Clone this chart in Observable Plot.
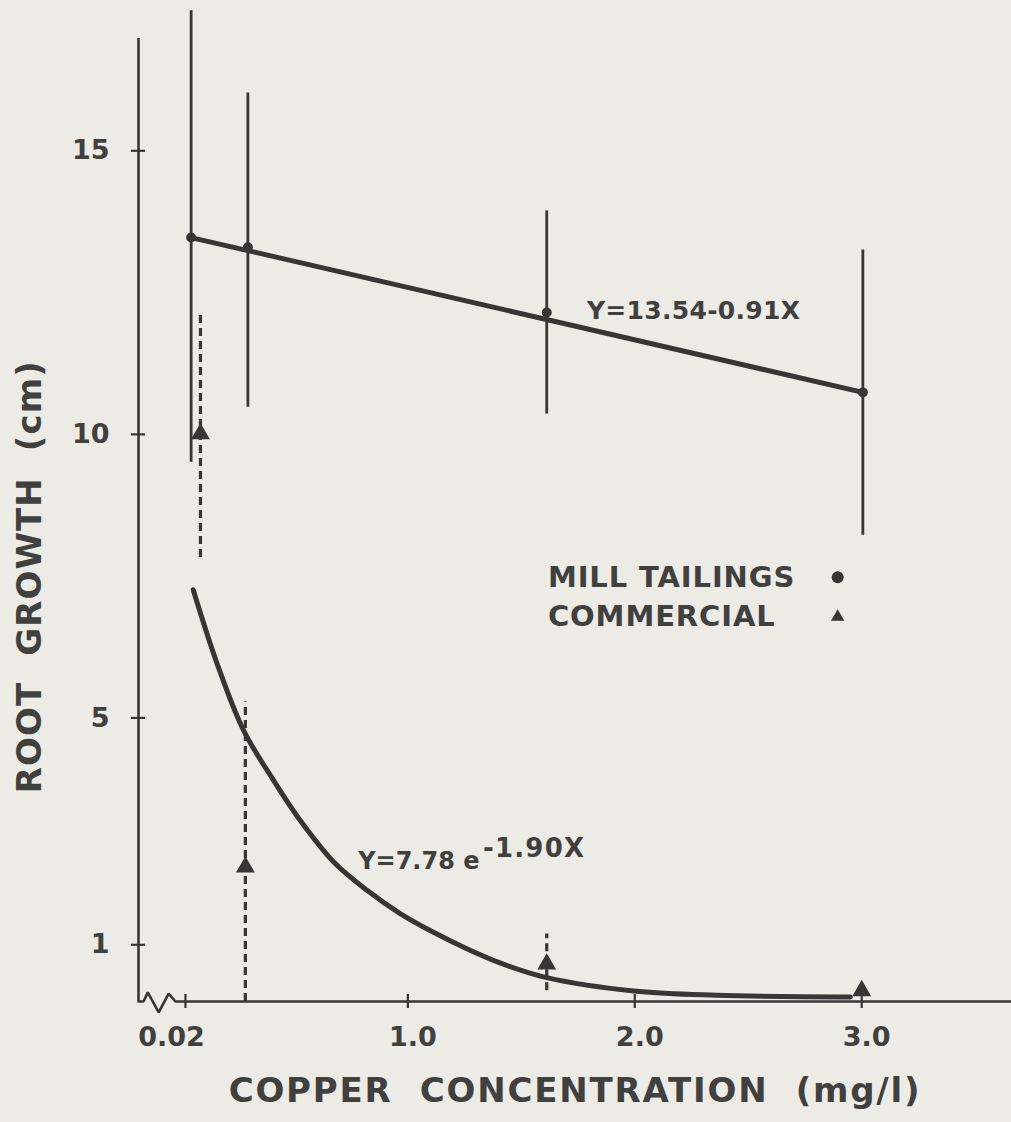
<!DOCTYPE html>
<html><head><meta charset="utf-8">
<script src="https://cdn.jsdelivr.net/npm/d3@7"></script>
<script src="https://cdn.jsdelivr.net/npm/@observablehq/plot@0.6"></script>
<style>
html,body{margin:0;padding:0;background:#ecebe5;}
#chart svg{display:block;}
#chart svg text{font-family:"DejaVu Sans",sans-serif;font-weight:bold;white-space:pre;}
</style></head><body><div id="chart"></div><script>
// ---- data ----
// Mill tailings: concentration (plotted position), mean root growth, error bar ends
const millX  = [0.045, 0.295, 1.612, 3.005];
const millY  = [13.47, 13.30, 12.15, 10.74];
const millLo = [9.51, 10.48, 10.36, 8.22];
const millHi = [17.47, 16.02, 13.94, 13.25];
// linear fit Y = 13.54 - 0.91X (end points as drawn)
const fitX = [0.045, 3.005];
const fitY = [13.47, 10.74];
// Commercial
const commX  = [0.086, 0.284, 1.612, 3.0];
const commY  = [10.01, 2.37, 0.66, 0.19];
const commLo = [7.83, 0.0, 0.19, null];
const commHi = [12.18, 5.28, 1.19, null];
// exponential fit Y = 7.78 e^(-1.90X), as traced on the picture
const curveX = [0.054, 0.16, 0.276, 0.408, 0.526, 0.673, 0.820, 0.966, 1.113, 1.26, 1.406, 1.612, 2.008, 2.36, 2.95];
const curveY = [7.26, 5.95, 4.78, 3.90, 3.19, 2.46, 1.96, 1.55, 1.22, 0.93, 0.68, 0.42, 0.18, 0.11, 0.08];
// axis ticks
const yTicks = [1, 5, 10, 15];
const xTicks = [0.02, 1.0, 2.0, 3.0];
const xTickLabels = ["0.02", "1.0", "2.0", "3.0"];
// axis break (zig-zag) on the x axis
const breakX = [-0.187, -0.165, -0.146, -0.098, -0.054, -0.024, 0.015];
const breakY = [0, 0, 0.16, -0.19, 0.14, 0, 0];
const xTitle = "COPPER  CONCENTRATION  (mg/l)";
const yTitle = "ROOT  GROWTH  (cm)";
const fitLabel1 = "Y=13.54-0.91X";
const fitLabel2 = "Y=7.78 e";
const fitLabel2Sup = "-1.90X";
const legendLabels = ["MILL TAILINGS", "COMMERCIAL"];
const legendSymbols = ["circle", "triangle"];

// ---- build tables ----
const mill = millX.map((x, i) => ({x, y: millY[i], lo: millLo[i], hi: millHi[i]}));
const comm = commX.map((x, i) => ({x, y: commY[i], lo: commLo[i], hi: commHi[i]}));
const fit = fitX.map((x, i) => ({x, y: fitY[i]}));
const curve = curveX.map((x, i) => ({x, y: curveY[i]}));
const brk = breakX.map((x, i) => ({x, y: breakY[i]}));

const ink = "#363634";
const textInk = "#40403e";
const xMin = -0.187, xMax = 3.66, yTop = 16.98;
const legendX = 1.617, legendSymX = 2.894;
const legendY = [7.48, 6.78];
const legend = legendLabels.map((t, i) => ({t, s: legendSymbols[i], y: legendY[i]}));

const chart = Plot.plot({
  width: 1011, height: 1122,
  marginLeft: 138, marginRight: 0, marginTop: 0, marginBottom: 121,
  x: {domain: [xMin, xMax], axis: null},
  y: {domain: [0, 17.65], axis: null},
  style: {background: "transparent", color: ink, overflow: "visible"},
  marks: [
    // axes
    Plot.ruleX([xMin], {x: d => d, y1: 0, y2: yTop, stroke: ink, strokeWidth: 2.6}),
    Plot.ruleY([0], {y: d => d, x1: 0.015, x2: xMax, stroke: ink, strokeWidth: 2.6}),
    Plot.line(brk, {x: "x", y: "y", stroke: ink, strokeWidth: 2.6, strokeLinejoin: "miter"}),
    Plot.ruleY(yTicks, {y: d => d, x1: xMin, x2: xMin, insetLeft: -7, insetRight: -7, stroke: ink, strokeWidth: 2.2}),
    Plot.ruleX(xTicks, {x: d => d, y1: 0, y2: 0, insetTop: -7, insetBottom: -7, stroke: ink, strokeWidth: 2.2}),
    Plot.text(yTicks, {x: xMin, y: d => d, text: d => String(d), textAnchor: "end", dx: -29, fontSize: 27, fill: textInk}),
    Plot.text(xTicks.slice(0, 1), {x: d => d, y: 0, text: (d, i) => xTickLabels[i], dy: 36, dx: -14, fontSize: 27, fill: textInk}),
    Plot.text(xTicks.slice(1), {x: d => d, y: 0, text: (d, i) => xTickLabels[i + 1], dy: 36, dx: 5, fontSize: 27, fill: textInk}),
    Plot.text([xTitle], {frameAnchor: "bottom", dy: 100, text: d => d, fontSize: 34, fill: textInk}),
    Plot.text([yTitle], {x: xMin, y: 7.49, dx: -108, rotate: -90, text: d => d, fontSize: 34, fill: textInk}),
    // mill tailings
    Plot.ruleX(mill, {x: "x", y1: "lo", y2: "hi", stroke: ink, strokeWidth: 2.8}),
    Plot.line(fit, {x: "x", y: "y", stroke: ink, strokeWidth: 5}),
    Plot.dot(mill, {x: "x", y: "y", r: 5, fill: ink}),
    // commercial
    Plot.ruleX(comm.filter(d => d.lo != null), {x: "x", y1: "lo", y2: "hi", stroke: ink, strokeWidth: 3.2, strokeDasharray: "8,5"}),
    Plot.line(curve, {x: "x", y: "y", curve: "catmull-rom", stroke: ink, strokeWidth: 5}),
    Plot.dot(comm, {x: "x", y: "y", symbol: "triangle", r: 7, fill: ink}),
    // fit labels
    Plot.text([fitLabel1], {x: 1.789, y: 12.18, text: d => d, textAnchor: "start", fontSize: 25, fill: textInk}),
    Plot.text([fitLabel2], {x: 0.781, y: 2.47, text: d => d, textAnchor: "start", fontSize: 24, fill: textInk}),
    Plot.text([fitLabel2Sup], {x: 1.331, y: 2.70, text: d => d, textAnchor: "start", fontSize: 26, fill: textInk}),
    // legend
    Plot.text(legend, {x: legendX, y: "y", text: "t", textAnchor: "start", fontSize: 29, fill: textInk}),
    Plot.dot(legend.slice(0, 1), {x: legendSymX, y: "y", symbol: "s", r: 6, fill: ink}),
    Plot.dot(legend.slice(1), {x: legendSymX, y: "y", symbol: "s", r: 5, fill: ink})
  ]
});
// letter spacing of the hand-lettered labels
const spacing = new Map([[xTitle, 1.8], [yTitle, 1.1], [fitLabel1, 0.3], [fitLabel2Sup, 1.2],
  [legendLabels[0], 0.9], [legendLabels[1], 0.9]]);
d3.select(chart).selectAll("text").each(function () {
  const s = spacing.get(this.textContent);
  if (s != null) this.style.letterSpacing = s + "px";
});
document.getElementById("chart").appendChild(chart);
</script></body></html>
